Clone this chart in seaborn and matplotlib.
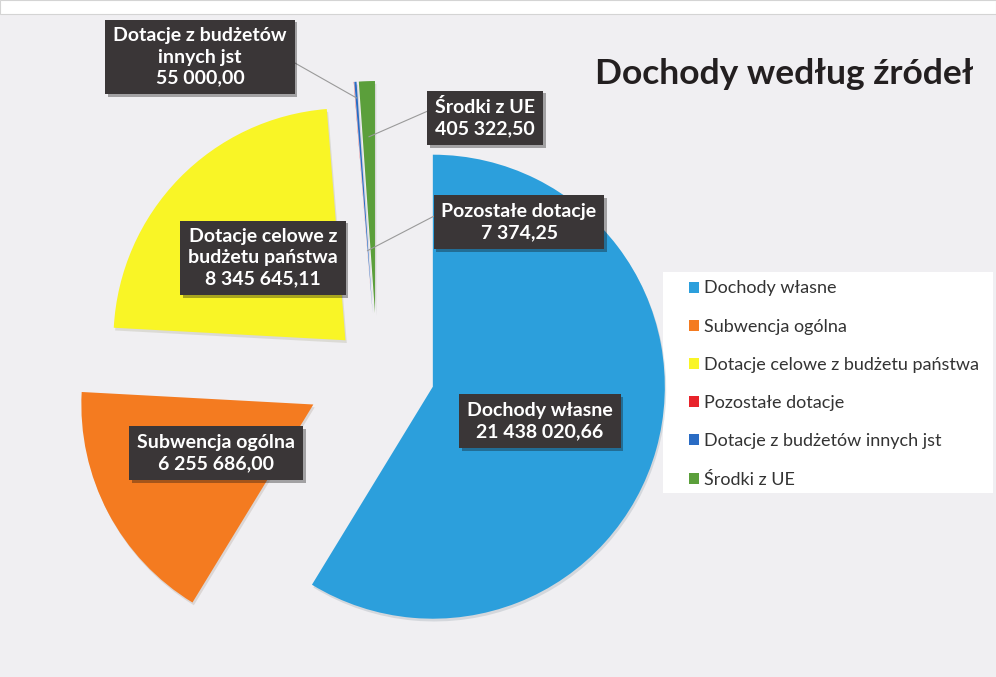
import matplotlib
matplotlib.use("Agg")
import matplotlib.pyplot as plt
import matplotlib.patheffects as pe
from matplotlib.patches import Rectangle, Patch
import numpy as np
import seaborn as sns

# data
categories = [
    "Dochody własne",
    "Subwencja ogólna",
    "Dotacje celowe z budżetu państwa",
    "Pozostałe dotacje",
    "Dotacje z budżetów innych jst",
    "Środki z UE",
]
box_names = [
    "Dochody własne",
    "Subwencja ogólna",
    "Dotacje celowe z\nbudżetu państwa",
    "Pozostałe dotacje",
    "Dotacje z budżetów\ninnych jst",
    "Środki z UE",
]
values = [21438020.66, 6255686.00, 8345645.11, 7374.25, 55000.00, 405322.50]

# style
colors = ["#2c9fdc", "#f47b20", "#f9f526", "#e8232b", "#2a6cc4", "#5b9f3b"]
explode = [0.25, 0.31, 0.19, 0.25, 0.25, 0.25]

W, H = 996, 677
CX, CY, R = 377, 371, 232  # pie centre / radius in pixels


def px(x, y):
    return x / W, 1 - y / H


# label box centres (pixels) and leader settings: (radius frac, relpos, angleA)
box_pos = [(540, 421), (216, 453), (263, 258), (519, 222), (200, 57), (485, 118)]
leaders = {3: (0.27, (0, 0.66), 180), 4: (0.93, (1, 0.41), 0), 5: (0.76, (0, 0.68), 180)}


def fmt(v):
    return f"{v:,.2f}".replace(",", " ").replace(".", ",")


sns.set_theme(style="white")
plt.rcParams["font.family"] = ["Lato", "DejaVu Sans"]

fig = plt.figure(figsize=(W / 100, H / 100), dpi=100)
fig.patch.set_facecolor("#f0eff2")
fig.add_artist(Rectangle(px(0, 14), 1, 14 / H, transform=fig.transFigure,
                         fc="white", ec="#d4d4d4", lw=0.8, zorder=0))
fig.add_artist(Rectangle(px(663, 493), 330 / W, 221 / H, transform=fig.transFigure,
                         fc="white", ec="none", zorder=0))

ax = fig.add_axes([0, 0, 1, 1])
ax.patch.set_alpha(0)
wedges, _ = ax.pie(
    values,
    colors=colors,
    explode=explode,
    startangle=90,
    counterclock=False,
    radius=1,
    wedgeprops=dict(linewidth=0),
)
for w in wedges:
    w.set_path_effects([pe.SimplePatchShadow(offset=(1, -2), alpha=0.12), pe.Normal()])

ax.set_xlim(-CX / R, (W - CX) / R)
ax.set_ylim(-(H - CY) / R, CY / R)
ax.set_aspect("equal")
ax.axis("off")

for i, w in enumerate(wedges):
    text = f"{box_names[i]}\n{fmt(values[i])}"
    kw = dict(
        xytext=px(*box_pos[i]),
        textcoords="figure fraction",
        ha="center",
        va="center",
        multialignment="center",
        fontsize=14,
        fontweight="bold",
        color="white",
        linespacing=1.3,
        bbox=dict(boxstyle="square,pad=0.4", fc="#3a3637", ec="none"),
    )
    if i in leaders:
        rf, rel, angA = leaders[i]
        mid = np.deg2rad((w.theta1 + w.theta2) / 2)
        xy = (w.center[0] + rf * w.r * np.cos(mid), w.center[1] + rf * w.r * np.sin(mid))
        kw["arrowprops"] = dict(
            arrowstyle="-",
            color="#9a9a9a",
            lw=0.8,
            shrinkA=0,
            shrinkB=0,
            relpos=rel,
            connectionstyle=f"arc,angleA={angA},angleB=0,armA=7,armB=0,rad=0",
        )
    else:
        xy = w.center
    t = ax.annotate(text, xy=xy, xycoords="data", **kw)
    t.get_bbox_patch().set_path_effects(
        [pe.SimplePatchShadow(offset=(2, -2), alpha=0.35), pe.Normal()]
    )

fig.text(*px(784, 74), "Dochody według źródeł", ha="center", va="center",
         fontsize=25.5, fontweight="bold", color="#231f20")

handles = [Patch(facecolor=c, edgecolor="none") for c in colors]
fig.legend(
    handles,
    categories,
    loc="center left",
    bbox_to_anchor=px(680, 384),
    bbox_transform=fig.transFigure,
    frameon=False,
    fontsize=13,
    labelspacing=1.23,
    handlelength=0.55,
    handleheight=0.55,
    handletextpad=0.3,
    borderpad=0,
    labelcolor="#333333",
)

fig.savefig("out.png", dpi=100, facecolor=fig.get_facecolor())
